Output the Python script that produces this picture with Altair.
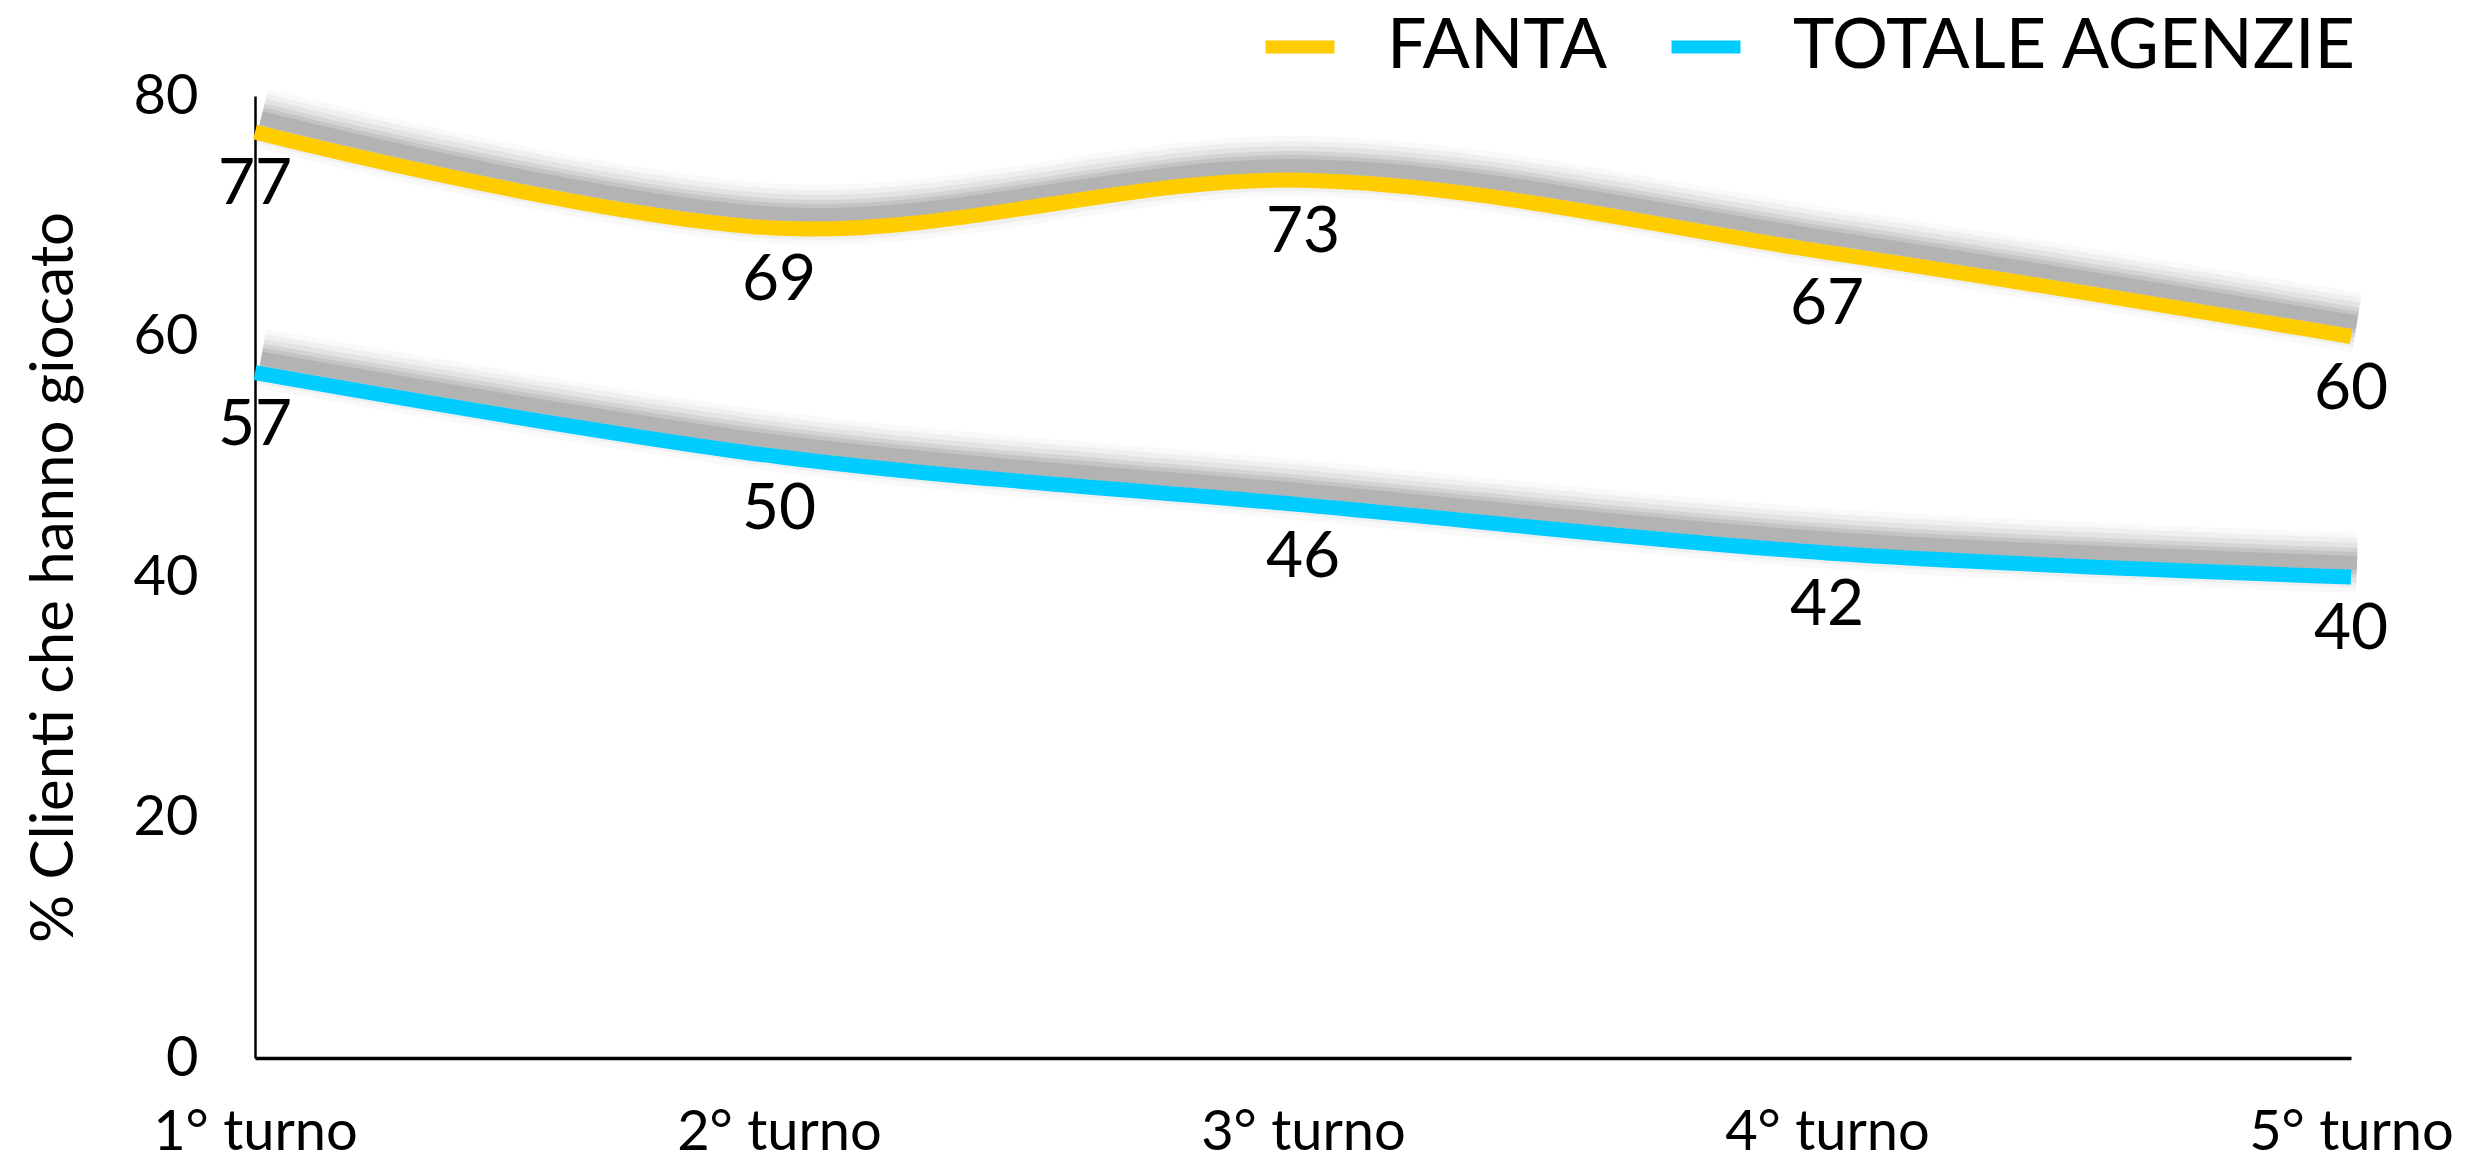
import altair as alt
import pandas as pd

turni = ["1° turno", "2° turno", "3° turno", "4° turno", "5° turno"]
fanta = [77, 69, 73, 67, 60]
totale = [57, 50, 46, 42, 40]
series_names = ["FANTA", "TOTALE AGENZIE"]
series_colors = ["#FFCC00", "#00CCFF"]
y_ticks = [0, 20, 40, 60, 80]

rows = []
for name, vals in zip(series_names, [fanta, totale]):
    for t, v in zip(turni, vals):
        rows.append({"turno": t, "valore": v, "serie": name})
df = pd.DataFrame(rows)

FONT = "Lato"

x_enc = alt.X("turno:N", sort=turni, scale=alt.Scale(padding=0),
              axis=alt.Axis(title=None, labelAngle=0, labelFontSize=56, labelFont=FONT,
                            labelColor="black", labelPadding=47, labelLimit=0,
                            ticks=False, tickSize=0,
                            domainColor="black", domainWidth=3.5, grid=False))
y_enc = alt.Y("valore:Q", scale=alt.Scale(domain=[0, 80], nice=False),
              axis=alt.Axis(values=y_ticks, title="% Clienti che hanno giocato",
                            titleFontSize=60, titleFont=FONT, titleFontWeight="normal",
                            titleColor="black", titleX=-183, titleY=481, titleAngle=270,
                            titleBaseline="alphabetic", titleAlign="center", titleLimit=0,
                            labelFontSize=56, labelFont=FONT, labelColor="black",
                            labelPadding=57, ticks=False, tickSize=0,
                            domainColor="black", domainWidth=2.5, grid=False))

base = alt.Chart(df)

shadow_specs = [(60, 0.04), (50, 0.06), (40, 0.08), (30, 0.10), (22, 0.13), (14, 0.15)]
shadows = []
for w, o in shadow_specs:
    shadows.append(
        base.mark_line(interpolate="cardinal", color="#5a5a5a", strokeWidth=w,
                       opacity=o, yOffset=-14, xOffset=6, strokeCap="butt")
        .encode(x=x_enc, y=y_enc, detail="serie:N")
    )

lines = base.mark_line(interpolate="cardinal", strokeWidth=15, strokeCap="butt").encode(
    x=x_enc, y=y_enc,
    color=alt.Color("serie:N", scale=alt.Scale(domain=series_names, range=series_colors),
                    legend=alt.Legend(title=None, orient="none", direction="horizontal",
                                      legendX=1004, legendY=-90,
                                      symbolType="stroke", symbolStrokeWidth=13,
                                      symbolSize=4761, labelFontSize=70, labelFont=FONT,
                                      labelColor="black", labelOffset=46, labelLimit=0,
                                      columnPadding=37, padding=0)),
)

labels = base.mark_text(dy=72, baseline="alphabetic", align="center", fontSize=64,
                        font=FONT, color="black").encode(
    x=x_enc, y=y_enc, text="valore:Q"
)

chart = alt.layer(*shadows, lines, labels).properties(
    width=2096, height=962,
    autosize=alt.AutoSizeParams(type="none"),
    padding={"left": 255, "top": 96, "right": 118, "bottom": 103},
    background="white",
).configure_view(stroke=None)

chart.save("out.html", embed_options={"renderer": "svg", "actions": False})
